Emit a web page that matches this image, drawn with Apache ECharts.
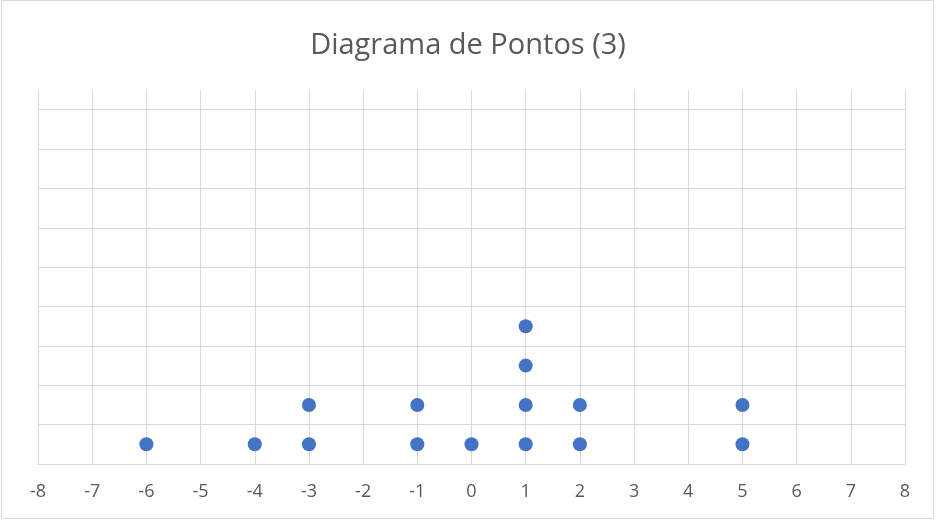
<!DOCTYPE html>
<html>
<head>
<meta charset="utf-8">
<script src="https://cdn.jsdelivr.net/npm/echarts@6/dist/echarts.min.js"></script>
<style>
html,body{margin:0;padding:0;background:#fff;}
#chart{width:936px;height:521px;}
</style>
</head>
<body>
<div id="chart"></div>
<script>
// Dot plot: each dot sits at its value, stacked at half-unit heights
const titleText = 'Diagrama de Pontos (3)';
const xValues = [-6, -4, -3, -3, -1, -1, 0, 1, 1, 1, 1, 2, 2, 5, 5];
const yLevels = [0.5, 0.5, 0.5, 1.5, 0.5, 1.5, 0.5, 0.5, 1.5, 2.5, 3.5, 0.5, 1.5, 0.5, 1.5];
const xMin = -8, xMax = 8, yMin = 0, yMax = 9.5;

const points = xValues.map((x, i) => [x, yLevels[i]]);

// gridline colours: one per y tick (0..9 plus the top edge at 9.5, which stays hidden)
const yLineColors = [];
for (let v = yMin; v <= 9; v++) yLineColors.push('#d9d9d9');
yLineColors.push('rgba(0,0,0,0)');

const chart = echarts.init(document.getElementById('chart'), null, {renderer: 'canvas'});
chart.setOption({
  animation: false,
  backgroundColor: '#ffffff',
  graphic: [{
    type: 'rect',
    shape: {x: 1.5, y: 0.5, width: 932, height: 518},
    style: {fill: 'none', stroke: '#d9d9d9', lineWidth: 1},
    silent: true, z: -1
  }],
  title: {
    text: titleText,
    left: 'center',
    top: 26,
    textStyle: {fontFamily: 'Open Sans', fontWeight: 'normal', fontSize: 29, color: '#595959'}
  },
  grid: {left: 38, right: 31, top: 90, bottom: 57, containLabel: false},
  xAxis: {
    type: 'value', min: xMin, max: xMax, interval: 1,
    axisLine: {show: true, lineStyle: {color: '#d9d9d9', width: 1}},
    axisTick: {show: false},
    axisLabel: {color: '#595959', fontSize: 18, fontFamily: 'Open Sans', margin: 19},
    splitLine: {show: true, lineStyle: {color: '#d9d9d9', width: 1}}
  },
  yAxis: {
    type: 'value', min: yMin, max: yMax, interval: 1,
    axisLine: {show: false},
    axisTick: {show: false},
    axisLabel: {show: false},
    splitLine: {show: true, lineStyle: {color: yLineColors, width: 1}}
  },
  series: [{
    type: 'scatter',
    data: points,
    symbol: 'circle',
    symbolSize: 14,
    itemStyle: {color: '#4472c4', opacity: 1}
  }]
});
</script>
</body>
</html>
